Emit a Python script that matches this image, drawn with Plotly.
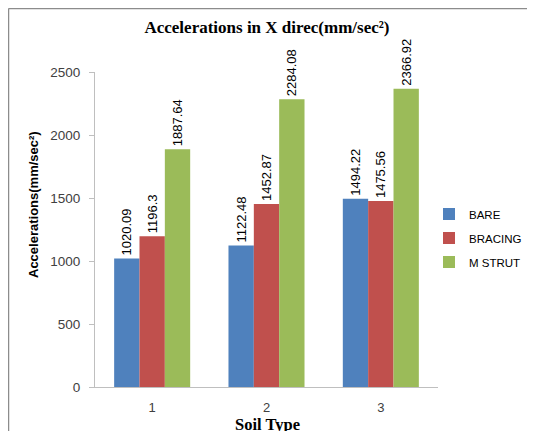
import plotly.graph_objects as go

categories = ["1", "2", "3"]
bare = [1020.09, 1122.48, 1494.22]
bracing = [1196.3, 1452.87, 1475.56]
m_strut = [1887.64, 2284.08, 2366.92]
y_ticks = [0, 500, 1000, 1500, 2000, 2500]

# page body has an 8px margin; work in reference-pixel coordinates and offset
OFF = 8
W, H = 535 - OFF, 431 - OFF
L, R, T, B = 95 - OFF, 97, 72 - OFF, 44
pw, ph = W - L - R, H - T - B

def px_x(px):
    return (px - OFF - L) / pw

def px_y(py):
    return (T + ph - (py - OFF)) / ph

series = [("BARE", bare, "#4F81BD"), ("BRACING", bracing, "#C0504D"), ("M STRUT", m_strut, "#9BBB59")]

fig = go.Figure()
for name, vals, col in series:
    fig.add_trace(go.Bar(
        x=categories, y=vals, name=name, marker=dict(color=col, line=dict(width=0)),
        text=[f"{v:g}" for v in vals], textposition="outside", textangle=-90,
        textfont=dict(family="Liberation Sans", size=13, color="#000000"),
        cliponaxis=False, constraintext="none", legendgroup=name,
    ))

fig.update_layout(
    width=W, height=H, margin=dict(l=L, r=R, t=T, b=B, autoexpand=False),
    paper_bgcolor="white", plot_bgcolor="white",
    barmode="group", bargap=0.335, bargroupgap=0,
    title=dict(text="<b>Accelerations in X direc(mm/sec²)</b>", x=(267 - OFF) / W,
               xanchor="center", y=1 - (27 - OFF) / H, yanchor="middle",
               font=dict(family="Liberation Serif", size=17, color="#000000")),
    xaxis=dict(showline=True, linecolor="#BFBFBF", linewidth=1, showgrid=False, zeroline=False,
               ticks="", tickfont=dict(family="Liberation Sans", size=13, color="#404040"),
               ticklabelstandoff=8, automargin=False),
    yaxis=dict(range=[0, 2500], tickvals=y_ticks, showline=True, linecolor="#BFBFBF", linewidth=1,
               showgrid=False, zeroline=False, ticks="outside", ticklen=5, tickcolor="#BFBFBF",
               tickfont=dict(family="Liberation Sans", size=13.5, color="#404040"),
               ticklabelstandoff=6, automargin=False),
    legend=dict(x=px_x(429), xanchor="left", y=px_y(238), yanchor="middle",
                font=dict(family="Liberation Sans", size=11.5, color="#000000"),
                traceorder="grouped", tracegroupgap=5, bgcolor="rgba(0,0,0,0)"),
    showlegend=True,
)

fig.add_annotation(text="<b>Accelerations(mm/sec²)</b>", xref="paper", yref="paper",
                   x=px_x(33), y=px_y(205), textangle=-90, showarrow=False,
                   xanchor="center", yanchor="middle",
                   font=dict(family="Liberation Sans", size=13, color="#000000"))
fig.add_annotation(text="<b>Soil Type</b>", xref="paper", yref="paper",
                   x=px_x(267), y=px_y(436), showarrow=False, xanchor="center", yanchor="bottom",
                   font=dict(family="Liberation Serif", size=16.5, color="#000000"))

frame = dict(color="#8C8C8C", width=1.5)
fig.add_shape(type="line", xref="paper", yref="paper",
              x0=px_x(8.5), x1=px_x(540), y0=px_y(8.5), y1=px_y(8.5), line=frame, layer="below")
fig.add_shape(type="line", xref="paper", yref="paper",
              x0=px_x(8.5), x1=px_x(8.5), y0=px_y(8.5), y1=px_y(440), line=frame, layer="below")

fig.write_html("out.html")
